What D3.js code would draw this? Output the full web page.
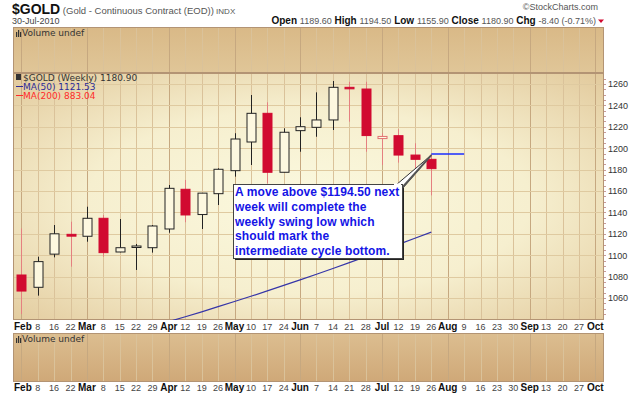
<!DOCTYPE html>
<html>
<head>
<meta charset="utf-8">
<script src="https://cdn.jsdelivr.net/npm/d3@7"></script>
<style>
body { margin: 0; background: #fff; }
</style>
</head>
<body>
<svg id="chart" width="640" height="396"></svg>
<script>
// week labels on the x axis (one per weekly bar slot)
var weekLabels = ["Feb", "8", "16", "22", "Mar", "8", "15", "22", "29", "Apr", "12", "19", "26",
    "May", "10", "17", "24", "Jun", "7", "14", "21", "28", "Jul", "12", "19", "26",
    "Aug", "9", "16", "23", "30", "Sep", "13", "20", "27", "Oct"];
var monthSlots = [0, 4, 9, 13, 17, 22, 26, 31, 35];

// weekly candles, Feb 1 .. Jul 26 2010
var opens = [1081.5, 1070, 1101, 1119.5, 1117.7, 1134.5, 1103, 1107.5, 1107, 1124.5, 1161.6, 1138, 1157.5,
    1179, 1205.8, 1232.6, 1177.5, 1216.4, 1219.5, 1226.4, 1256.9, 1255.3, 1209, 1211.7, 1193.6, 1189.6];
var highs = [1125, 1098.6, 1128.2, 1131.3, 1145.3, 1137.6, 1133.8, 1110.5, 1128.2, 1165.6, 1170.3, 1158, 1181.2,
    1214, 1249.7, 1242.9, 1218.6, 1228.9, 1252.2, 1262.8, 1262.1, 1262.1, 1214, 1217.7, 1204.6, 1194.5];
var lows = [1045, 1062.2, 1098, 1089.3, 1112.6, 1098.6, 1102.7, 1086.2, 1102.4, 1121, 1130.8, 1124.5, 1146.9,
    1173.4, 1184.3, 1167.2, 1177.5, 1196.7, 1210.7, 1217, 1224.8, 1196.7, 1184.3, 1186.5, 1181.2, 1155.9];
var closes = [1066.5, 1094, 1120, 1117.8, 1134.5, 1102.4, 1107, 1108.6, 1127.3, 1162.5, 1137.6, 1158, 1180.3,
    1208.6, 1232.6, 1177.5, 1214.9, 1220.1, 1226.4, 1256.9, 1255.5, 1211.8, 1211, 1193.6, 1189.6, 1180.9];
var prevClose = 1083;

// MA(50), starts at slot 9
var maStart = 9;
var ma50 = [1038, 1042.5, 1047.1, 1051.9, 1056.7, 1061.6, 1066.6, 1071.8, 1076.9, 1082.2, 1087.6,
    1093.1, 1098.6, 1104.3, 1110.1, 1115.9, 1121.53];

var yTicks = [1060, 1080, 1100, 1120, 1140, 1160, 1180, 1200, 1220, 1240, 1260];
var targetLevel = 1194.5;
var noteLines = ["A move above $1194.50 next", "week will complete the", "weekly swing low which",
    "should mark the", "intermediate cycle bottom."];

//layout
var left = 13, right = 604;
var topPanel = {y0: 27, y1: 73};
var mainPanel = {y0: 73, y1: 320};
var volPanel = {y0: 333, y1: 382};

var svg = d3.select("#chart");
var defs = svg.append("defs");

var rg = defs.append("radialGradient").attr("id", "mainBg")
    .attr("cx", "50%").attr("cy", "52%").attr("r", "75%");
rg.append("stop").attr("offset", "0%").attr("stop-color", "#fbf9df");
rg.append("stop").attr("offset", "50%").attr("stop-color", "#f6efcf");
rg.append("stop").attr("offset", "100%").attr("stop-color", "#e0c697");

var tg = defs.append("linearGradient").attr("id", "topBg").attr("x1", 0).attr("y1", 0).attr("x2", 0).attr("y2", 1);
tg.append("stop").attr("offset", "0%").attr("stop-color", "#d9b987");
tg.append("stop").attr("offset", "100%").attr("stop-color", "#e0c698");

var vg = defs.append("linearGradient").attr("id", "volBg").attr("x1", 0).attr("y1", 0).attr("x2", 0).attr("y2", 1);
vg.append("stop").attr("offset", "0%").attr("stop-color", "#dcbe90");
vg.append("stop").attr("offset", "100%").attr("stop-color", "#cfa878");

defs.append("clipPath").attr("id", "mainClip").append("rect")
    .attr("x", left).attr("y", mainPanel.y0).attr("width", right - left).attr("height", mainPanel.y1 - mainPanel.y0);

// scales
var x = d3.scaleLinear().domain([0, 35]).range([21.3, 595.3]);
var y = d3.scaleLinear().domain([1060, 1260]).range([298, 84]);

// panels
function panel(p, fill) {
    svg.append("rect").attr("x", left).attr("y", p.y0).attr("width", right - left).attr("height", p.y1 - p.y0)
        .attr("fill", fill);
    var g = svg.append("g");
    g.selectAll("line").data(d3.range(36)).enter().append("line")
        .attr("x1", function (d) { return Math.round(x(d)) + 0.5; })
        .attr("x2", function (d) { return Math.round(x(d)) + 0.5; })
        .attr("y1", p.y0).attr("y2", p.y1)
        .attr("stroke", function (d) { return monthSlots.indexOf(d) >= 0 ? "#c6a880" : "#dac29a"; })
        .attr("stroke-width", 1);
    return g;
}

panel(topPanel, "url(#topBg)");
var mg = panel(mainPanel, "url(#mainBg)");
mg.selectAll("line.h").data(yTicks).enter().append("line").attr("class", "h")
    .attr("x1", left).attr("x2", right)
    .attr("y1", function (d) { return Math.round(y(d)) + 0.5; })
    .attr("y2", function (d) { return Math.round(y(d)) + 0.5; })
    .attr("stroke", "#dfcaa0").attr("stroke-width", 1);
panel(volPanel, "url(#volBg)");

// frames
[topPanel, mainPanel, volPanel].forEach(function (p) {
    svg.append("rect").attr("x", left + 0.5).attr("y", p.y0 + 0.5)
        .attr("width", right - left - 1).attr("height", p.y1 - p.y0 - 1)
        .attr("fill", "none").attr("stroke", "#b39474").attr("stroke-width", 1);
});

// right axis
var yAxis = d3.axisRight(y).tickValues(yTicks).tickFormat(d3.format("d")).tickSize(0).tickPadding(4);
var ax = svg.append("g").attr("transform", "translate(" + right + ",0)").call(yAxis);
ax.select(".domain").remove();
ax.selectAll("text").attr("font-family", "Liberation Sans, Arial, sans-serif").attr("font-size", "9px").attr("fill", "#333");
svg.append("g").selectAll("line").data(d3.range(1045, 1270, 5)).enter().append("line")
    .attr("x1", right).attr("x2", right + 2)
    .attr("y1", function (d) { return Math.round(y(d)) + 0.5; })
    .attr("y2", function (d) { return Math.round(y(d)) + 0.5; })
    .attr("stroke", "#c89a9a");

// candles
var plot = svg.append("g").attr("clip-path", "url(#mainClip)");
var candles = d3.range(opens.length).map(function (i) {
    var pc = i === 0 ? prevClose : closes[i - 1];
    return {i: i, o: opens[i], h: highs[i], l: lows[i], c: closes[i], red: closes[i] < pc};
});

plot.selectAll("line.wick").data(candles).enter().append("line").attr("class", "wick")
    .attr("x1", function (d) { return Math.round(x(d.i)) + 0.5; })
    .attr("x2", function (d) { return Math.round(x(d.i)) + 0.5; })
    .attr("y1", function (d) { return y(d.h); })
    .attr("y2", function (d) { return y(d.l); })
    .attr("stroke", function (d) { return d.red ? "#e58080" : "#222"; })
    .attr("stroke-width", 1);

plot.selectAll("rect.body").data(candles).enter().append("rect").attr("class", "body")
    .attr("x", function (d) { return Math.round(x(d.i)) - 4; })
    .attr("width", 9)
    .attr("y", function (d) { return y(Math.max(d.o, d.c)); })
    .attr("height", function (d) { return Math.max(1.5, Math.abs(y(d.o) - y(d.c))); })
    .attr("fill", function (d) {
        if (d.c < d.o) return d.red ? "#d10a30" : "#222";
        return "#fdf8e0";
    })
    .attr("stroke", function (d) {
        if (d.c < d.o) return d.red ? "#d10a30" : "#222";
        return d.red ? "#e07070" : "#222";
    })
    .attr("stroke-width", 1);

// moving average
var line = d3.line()
    .x(function (d, k) { return x(maStart + k); })
    .y(function (d) { return y(d); });
plot.append("path").datum(ma50).attr("d", line)
    .attr("fill", "none").attr("stroke", "#3535a8").attr("stroke-width", 1.2);

// target line
var last = opens.length - 1;
svg.append("line").attr("x1", x(last)).attr("x2", x(last + 2))
    .attr("y1", y(targetLevel)).attr("y2", y(targetLevel))
    .attr("stroke", "#1a2cff").attr("stroke-width", 1.5);

// annotation callout
var bx = 233, by = 184, bw = 169, bh = 74;
var tipX = x(last), tipY = y(targetLevel) + 1;
svg.append("rect").attr("x", bx + 2).attr("y", by + 2).attr("width", bw).attr("height", bh).attr("fill", "#222");
svg.append("polygon")
    .attr("points", [[bx + bw - 6, by + 1], [bx + bw, by + 5], [tipX, tipY]].join(" "))
    .attr("fill", "#fff").attr("stroke", "#333").attr("stroke-width", 1);
svg.append("line").attr("x1", bx + bw - 1).attr("y1", by + 5).attr("x2", tipX).attr("y2", tipY)
    .attr("stroke", "#555").attr("stroke-width", 2);
svg.append("rect").attr("x", bx + 0.5).attr("y", by + 0.5).attr("width", bw).attr("height", bh)
    .attr("fill", "#fff").attr("stroke", "#444").attr("stroke-width", 1);
svg.append("rect").attr("x", bx + bw - 8).attr("y", by - 0.5).attr("width", 7).attr("height", 2).attr("fill", "#fff");
svg.append("g").selectAll("text").data(noteLines).enter().append("text")
    .attr("x", bx + 2)
    .attr("y", function (d, k) { return by + 12 + k * 14.8; })
    .text(function (d) { return d; })
    .attr("font-family", "Liberation Sans, Arial, sans-serif")
    .attr("font-weight", "bold")
    .attr("font-size", "12px")
    .attr("letter-spacing", "0.1px")
    .attr("fill", "#1414e6");

// x axis labels
function xLabels(yy) {
    svg.append("g").selectAll("text").data(weekLabels).enter().append("text")
        .attr("x", function (d, i) { return i === 0 ? left + 1 : x(i); })
        .attr("y", yy)
        .attr("text-anchor", function (d, i) { return i === 0 ? "start" : "middle"; })
        .attr("font-family", "Liberation Sans, Arial, sans-serif")
        .attr("font-size", function (d, i) { return monthSlots.indexOf(i) >= 0 ? "10px" : "9px"; })
        .attr("font-weight", function (d, i) { return monthSlots.indexOf(i) >= 0 ? "bold" : "normal"; })
        .attr("fill", function (d, i) { return monthSlots.indexOf(i) >= 0 ? "#111" : "#444"; })
        .text(function (d) { return d; });
}
xLabels(330);
xLabels(391);

// header
var hdr = svg.append("text").attr("x", 12).attr("y", 14).attr("font-family", "Liberation Sans, Arial, sans-serif");
hdr.append("tspan").attr("font-size", "14px").attr("font-weight", "bold").attr("fill", "#111").text("$GOLD");
hdr.append("tspan").attr("font-size", "9.5px").attr("fill", "#555").text(" (Gold - Continuous Contract (EOD))");
hdr.append("tspan").attr("font-size", "8px").attr("fill", "#555").text("  INDX");
svg.append("text").attr("x", 12).attr("y", 24).attr("font-family", "Liberation Sans, Arial, sans-serif")
    .attr("font-size", "9px").attr("fill", "#444").text("30-Jul-2010");
svg.append("text").attr("x", 598).attr("y", 10).attr("text-anchor", "end")
    .attr("font-family", "Liberation Sans, Arial, sans-serif").attr("font-size", "9px").attr("fill", "#555")
    .text("\u00a9StockCharts.com");

var quote = [["Open", "1189.60"], ["High", "1194.50"], ["Low", "1155.90"], ["Close", "1180.90"], ["Chg", "-8.40 (-0.71%)"]];
var q = svg.append("text").attr("x", 596).attr("y", 24).attr("text-anchor", "end")
    .attr("font-family", "Liberation Sans, Arial, sans-serif").attr("font-size", "9px");
quote.forEach(function (p, k) {
    q.append("tspan").attr("font-weight", "bold").attr("font-size", "10px").attr("fill", "#111").text((k ? "  " : "") + p[0] + " ");
    q.append("tspan").attr("fill", "#555").text(p[1]);
});
svg.append("path").attr("d", "M598,19.5 L604,19.5 L601,23 Z").attr("fill", "#d10a30");

// panel legends
function volLabel(yy) {
    var g = svg.append("g");
    [0, 2, 4].forEach(function (dx, k) {
        g.append("rect").attr("x", 16 + dx).attr("y", yy - 6 + (k === 1 ? 0 : 2)).attr("width", 1.2)
            .attr("height", k === 1 ? 7 : 5).attr("fill", "#333");
    });
    g.append("text").attr("x", 22).attr("y", yy).attr("font-family", "DejaVu Sans, sans-serif")
        .attr("font-size", "9px").attr("fill", "#333").text("Volume undef");
}
volLabel(36);
volLabel(342);

var lg = svg.append("g").attr("font-family", "DejaVu Sans, sans-serif").attr("font-size", "9px");
lg.append("rect").attr("x", 16).attr("y", 74).attr("width", 5).attr("height", 6).attr("fill", "#333");
lg.append("text").attr("x", 23).attr("y", 81).attr("fill", "#333").text("$GOLD (Weekly) 1180.90");
lg.append("line").attr("x1", 16).attr("x2", 23).attr("y1", 86.5).attr("y2", 86.5).attr("stroke", "#2c2c99");
lg.append("text").attr("x", 23).attr("y", 90).attr("fill", "#2c2c99").text("MA(50) 1121.53");
lg.append("line").attr("x1", 16).attr("x2", 23).attr("y1", 95.5).attr("y2", 95.5).attr("stroke", "#ff2a2a");
lg.append("text").attr("x", 23).attr("y", 99).attr("fill", "#ff2a2a").text("MA(200) 883.04");
</script>
</body>
</html>
